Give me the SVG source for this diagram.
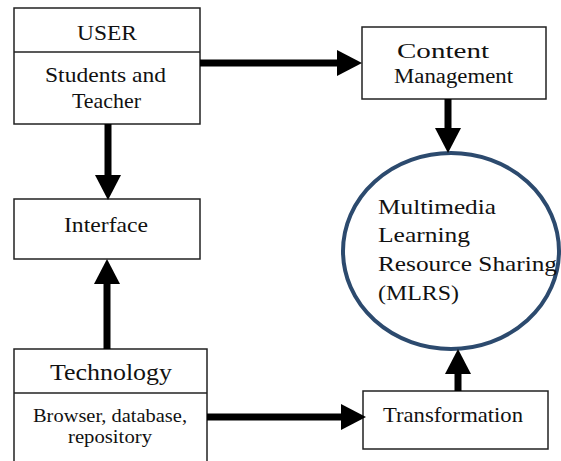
<svg xmlns="http://www.w3.org/2000/svg" width="561" height="461" viewBox="0 0 561 461">
<style>
.box{fill:#fff;stroke:#222;stroke-width:1.5}
text{font-family:'Liberation Serif','Times New Roman','DejaVu Serif',serif;fill:#111}
.t{text-anchor:middle}
.c{stroke:#000;stroke-width:7;fill:none;marker-end:url(#ah)}
</style>
<defs>
<marker id="ah" markerUnits="userSpaceOnUse" markerWidth="25" markerHeight="26" refX="0" refY="13" orient="auto">
<path d="M0,0 L25,13 L0,26 z" fill="#000"/>
</marker>
</defs>
<rect width="561" height="461" fill="#fff"/>
<g id="user">
<rect class="box" x="14" y="8" width="186" height="116"/>
<line x1="14" y1="52" x2="200" y2="52" stroke="#222" stroke-width="1.5"/>
<text x="77" y="40" font-size="22" textLength="60" lengthAdjust="spacingAndGlyphs">USER</text>
<text x="45" y="82" font-size="21" textLength="121" lengthAdjust="spacingAndGlyphs">Students and</text>
<text x="72" y="108" font-size="21" textLength="69" lengthAdjust="spacingAndGlyphs">Teacher</text>
</g>
<g id="content">
<rect class="box" x="362" y="27" width="184" height="72"/>
<text x="397" y="58" font-size="20" textLength="92" lengthAdjust="spacingAndGlyphs">Content</text>
<text x="394" y="83" font-size="20" textLength="119" lengthAdjust="spacingAndGlyphs">Management</text>
</g>
<g id="interface">
<rect class="box" x="14" y="199" width="186" height="60"/>
<text x="64" y="232" font-size="21" textLength="84" lengthAdjust="spacingAndGlyphs">Interface</text>
</g>
<g id="mlrs">
<ellipse cx="451" cy="251" rx="108" ry="98" fill="#fff" stroke="#2c4a6e" stroke-width="4"/>
<text x="378" y="214" font-size="22" textLength="118" lengthAdjust="spacingAndGlyphs">Multimedia</text>
<text x="378" y="242" font-size="22" textLength="92" lengthAdjust="spacingAndGlyphs">Learning</text>
<text x="378" y="271" font-size="22" textLength="179" lengthAdjust="spacingAndGlyphs">Resource Sharing</text>
<text x="378" y="300" font-size="22" textLength="81" lengthAdjust="spacingAndGlyphs">(MLRS)</text>
</g>
<g id="technology">
<rect class="box" x="14" y="349" width="193" height="116"/>
<line x1="14" y1="393" x2="207" y2="393" stroke="#222" stroke-width="1.5"/>
<text x="50" y="380" font-size="23" textLength="122" lengthAdjust="spacingAndGlyphs">Technology</text>
<text x="33" y="422" font-size="19" textLength="154" lengthAdjust="spacingAndGlyphs">Browser, database,</text>
<text x="68" y="443" font-size="19" textLength="84" lengthAdjust="spacingAndGlyphs">repository</text>
</g>
<g id="transformation">
<rect class="box" x="363" y="391" width="185" height="58"/>
<text x="383" y="422" font-size="21" textLength="140" lengthAdjust="spacingAndGlyphs">Transformation</text>
</g>
<g id="connectors">
<line class="c" x1="200" y1="63" x2="337" y2="63"/>
<line class="c" x1="448" y1="99" x2="448" y2="128"/>
<line class="c" x1="108" y1="124" x2="108" y2="175"/>
<line class="c" x1="107" y1="349" x2="107" y2="284"/>
<line class="c" x1="207" y1="417" x2="341" y2="417"/>
<line class="c" x1="458" y1="391" x2="458" y2="374"/>
</g>
</svg>
